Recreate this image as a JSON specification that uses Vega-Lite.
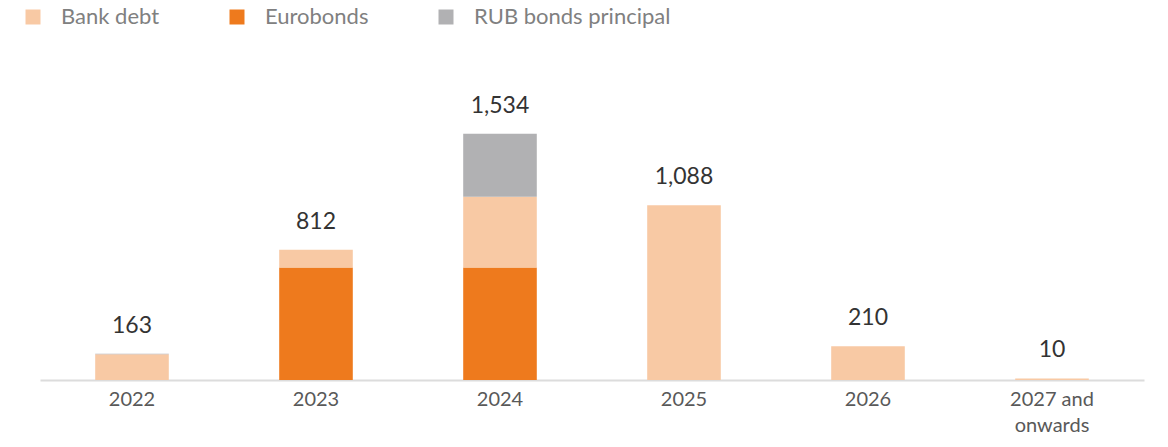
{
  "$schema": "https://vega.github.io/schema/vega-lite/v6.json",
  "autosize": "none",
  "width": 1104,
  "height": 289,
  "padding": {"left": 40, "top": 91, "right": 24, "bottom": 67},
  "background": "white",
  "config": {
    "view": {"stroke": null},
    "font": "Lato"
  },
  "data": {
    "values": [
      {"year": "2022", "type": "Bank debt", "value": 160, "ord": 2},
      {"year": "2022", "type": "RUB bonds principal", "value": 3, "ord": 3},
      {"year": "2023", "type": "Eurobonds", "value": 700, "ord": 1},
      {"year": "2023", "type": "Bank debt", "value": 112, "ord": 2},
      {"year": "2024", "type": "Eurobonds", "value": 700, "ord": 1},
      {"year": "2024", "type": "Bank debt", "value": 442, "ord": 2},
      {"year": "2024", "type": "RUB bonds principal", "value": 392, "ord": 3},
      {"year": "2025", "type": "Bank debt", "value": 1088, "ord": 2},
      {"year": "2026", "type": "Bank debt", "value": 210, "ord": 2},
      {"year": "2027 and onwards", "type": "Bank debt", "value": 10, "ord": 2}
    ]
  },
  "encoding": {
    "x": {
      "field": "year",
      "type": "nominal",
      "sort": null,
      "scale": {"paddingInner": 0.6, "paddingOuter": 0.3},
      "axis": {
        "title": null,
        "labelAngle": 0,
        "ticks": false,
        "domainColor": "#dcdcdc",
        "domainWidth": 2,
        "labelColor": "#595959",
        "labelFontSize": 20,
        "labelPadding": 9,
        "labelLineHeight": 26,
        "labelExpr": "datum.value == '2027 and onwards' ? ['2027 and', 'onwards'] : datum.value"
      }
    }
  },
  "layer": [
    {
      "mark": {"type": "bar"},
      "encoding": {
        "y": {
          "field": "value",
          "type": "quantitative",
          "aggregate": "sum",
          "stack": "zero",
          "scale": {"domain": [0, 1800], "nice": false},
          "axis": null
        },
        "color": {
          "field": "type",
          "type": "nominal",
          "scale": {
            "domain": ["Bank debt", "Eurobonds", "RUB bonds principal"],
            "range": ["#F8C9A4", "#EE7A1D", "#B1B1B3"]
          },
          "legend": {
            "title": null,
            "orient": "none",
            "direction": "horizontal",
            "legendX": -18,
            "legendY": -85,
            "padding": 0,
            "symbolType": "square",
            "symbolSize": 225,
            "symbolStrokeWidth": 0,
            "labelFontSize": 22,
            "labelLimit": 300,
            "labelColor": "#808080",
            "labelOffset": 17,
            "columnPadding": 66
          }
        },
        "order": {"field": "ord", "type": "quantitative"}
      }
    },
    {
      "mark": {"type": "text", "baseline": "bottom", "dy": -16, "fontSize": 23, "color": "#333333"},
      "encoding": {
        "y": {"field": "value", "type": "quantitative", "aggregate": "sum"},
        "text": {"field": "value", "type": "quantitative", "aggregate": "sum", "format": ","}
      }
    }
  ]
}
